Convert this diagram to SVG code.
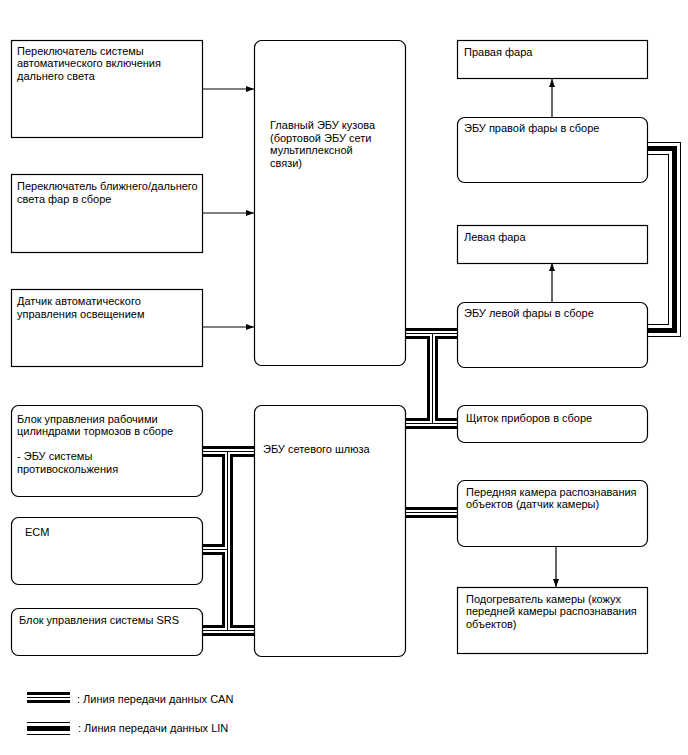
<svg xmlns="http://www.w3.org/2000/svg" xmlns:xlink="http://www.w3.org/1999/xlink" width="688" height="755" viewBox="0 0 688 755">
<style>
  .box{fill:#fff;stroke:#000;stroke-width:1.2}
  text{font-family:"Liberation Sans",Arial,sans-serif;font-size:11px;fill:#000}
  .arrow{fill:none;stroke:#000;stroke-width:1.2;marker-end:url(#ah)}
  .b1{fill:none;stroke:#000;stroke-width:11;stroke-linejoin:miter;stroke-linecap:butt}
  .b2{fill:none;stroke:#fff;stroke-width:5;stroke-linejoin:miter;stroke-linecap:butt}
  .b3{fill:none;stroke:#000;stroke-width:1;stroke-linejoin:miter;stroke-linecap:butt}
  .l1{fill:none;stroke:#000;stroke-width:13;stroke-linejoin:miter;stroke-linecap:butt}
  .l2{fill:none;stroke:#fff;stroke-width:11;stroke-linejoin:miter;stroke-linecap:butt}
  .l3{fill:none;stroke:#000;stroke-width:5;stroke-linejoin:miter;stroke-linecap:butt}
</style>
<defs>
  <marker id="ah" viewBox="0 0 8 6" refX="8" refY="3" markerWidth="8" markerHeight="6" markerUnits="userSpaceOnUse" orient="auto">
    <path d="M0,0 L8,3 L0,6 z" fill="#000"/>
  </marker>
  <path id="can" d="M200,451.5 H256 M227.5,451.5 V630.5 M200,549.5 H227.5 M200,630.5 H256 M403,333.5 H460 M432.5,333.5 V423.5 M403,423.5 H460 M403,512.5 H460"/>
  <path id="lin" d="M646,148.5 H674.5 V330.5 H646"/>
  <path id="canLeg" d="M27,697.5 H70"/>
  <path id="linLeg" d="M27,728.5 H70"/>
</defs>

<g id="connectors">
  <use xlink:href="#can" class="b1"/>
  <use xlink:href="#can" class="b2"/>
  <use xlink:href="#can" class="b3"/>
  <use xlink:href="#lin" class="l1"/>
  <use xlink:href="#lin" class="l2"/>
  <use xlink:href="#lin" class="l3"/>
  <path class="arrow" d="M202,89 H254"/>
  <path class="arrow" d="M202,213 H254"/>
  <path class="arrow" d="M202,327 H254"/>
  <path class="arrow" d="M552,117 V79"/>
  <path class="arrow" d="M552,302 V263"/>
  <path class="arrow" d="M556,547 V587"/>
</g>

<g id="n-highbeam-switch">
  <rect class="box" x="11.5" y="40.5" width="191" height="97"/>
  <text x="17" y="54.5">Переключатель системы</text>
  <text x="17" y="67">автоматического включения</text>
  <text x="17" y="79.5">дальнего света</text>
</g>
<g id="n-dimmer-switch">
  <rect class="box" x="11.5" y="174.5" width="191" height="78"/>
  <text x="17" y="190">Переключатель ближнего/дальнего</text>
  <text x="17" y="202.5">света фар в сборе</text>
</g>
<g id="n-light-sensor">
  <rect class="box" x="11.5" y="289.5" width="191" height="77"/>
  <text x="17" y="305">Датчик автоматического</text>
  <text x="17" y="317.5">управления освещением</text>
</g>
<g id="n-main-body-ecu">
  <rect class="box" x="254.5" y="40.5" width="151" height="325" rx="7"/>
  <text x="270" y="129">Главный ЭБУ кузова</text>
  <text x="270" y="141.5">(бортовой ЭБУ сети</text>
  <text x="270" y="154">мультиплексной</text>
  <text x="270" y="166.5">связи)</text>
</g>
<g id="n-right-headlamp">
  <rect class="box" x="457.5" y="40.5" width="190" height="38"/>
  <text x="464" y="56">Правая фара</text>
</g>
<g id="n-right-headlamp-ecu">
  <rect class="box" x="457.5" y="117.5" width="190" height="65" rx="7"/>
  <text x="464" y="132">ЭБУ правой фары в сборе</text>
</g>
<g id="n-left-headlamp">
  <rect class="box" x="457.5" y="225.5" width="190" height="38"/>
  <text x="464" y="241">Левая фара</text>
</g>
<g id="n-left-headlamp-ecu">
  <rect class="box" x="457.5" y="302.5" width="190" height="65" rx="7"/>
  <text x="464" y="316.5">ЭБУ левой фары в сборе</text>
</g>
<g id="n-combination-meter">
  <rect class="box" x="457.5" y="405.5" width="190" height="37" rx="7"/>
  <text x="466" y="421.5">Щиток приборов в сборе</text>
</g>
<g id="n-front-camera">
  <rect class="box" x="457.5" y="480.5" width="190" height="66" rx="7"/>
  <text x="466" y="495.5">Передняя камера распознавания</text>
  <text x="466" y="508">объектов (датчик камеры)</text>
</g>
<g id="n-camera-heater">
  <rect class="box" x="457.5" y="587.5" width="190" height="66"/>
  <text x="466" y="602.5">Подогреватель камеры (кожух</text>
  <text x="466" y="615">передней камеры распознавания</text>
  <text x="466" y="627.5">объектов)</text>
</g>
<g id="n-gateway-ecu">
  <rect class="box" x="254.5" y="405.5" width="151" height="251" rx="7"/>
  <text x="263" y="452.5">ЭБУ сетевого шлюза</text>
</g>
<g id="n-brake-actuator">
  <rect class="box" x="11.5" y="405.5" width="191" height="91" rx="7"/>
  <text x="17" y="422.5">Блок управления рабочими</text>
  <text x="17" y="435">цилиндрами тормозов в сборе</text>
  <text x="17" y="460">- ЭБУ системы</text>
  <text x="17" y="472.5">противоскольжения</text>
</g>
<g id="n-ecm">
  <rect class="box" x="11.5" y="517.5" width="191" height="67" rx="7"/>
  <text x="25" y="535.5">ECM</text>
</g>
<g id="n-srs">
  <rect class="box" x="11.5" y="608.5" width="191" height="47" rx="7"/>
  <text x="19" y="623.5">Блок управления системы SRS</text>
</g>

<g id="legend">
  <use xlink:href="#canLeg" class="b1"/>
  <use xlink:href="#canLeg" class="b2"/>
  <use xlink:href="#canLeg" class="b3"/>
  <text x="77" y="703">: Линия передачи данных CAN</text>
  <use xlink:href="#linLeg" class="l1"/>
  <use xlink:href="#linLeg" class="l2"/>
  <use xlink:href="#linLeg" class="l3"/>
  <text x="78" y="731.5">: Линия передачи данных LIN</text>
</g>
</svg>
